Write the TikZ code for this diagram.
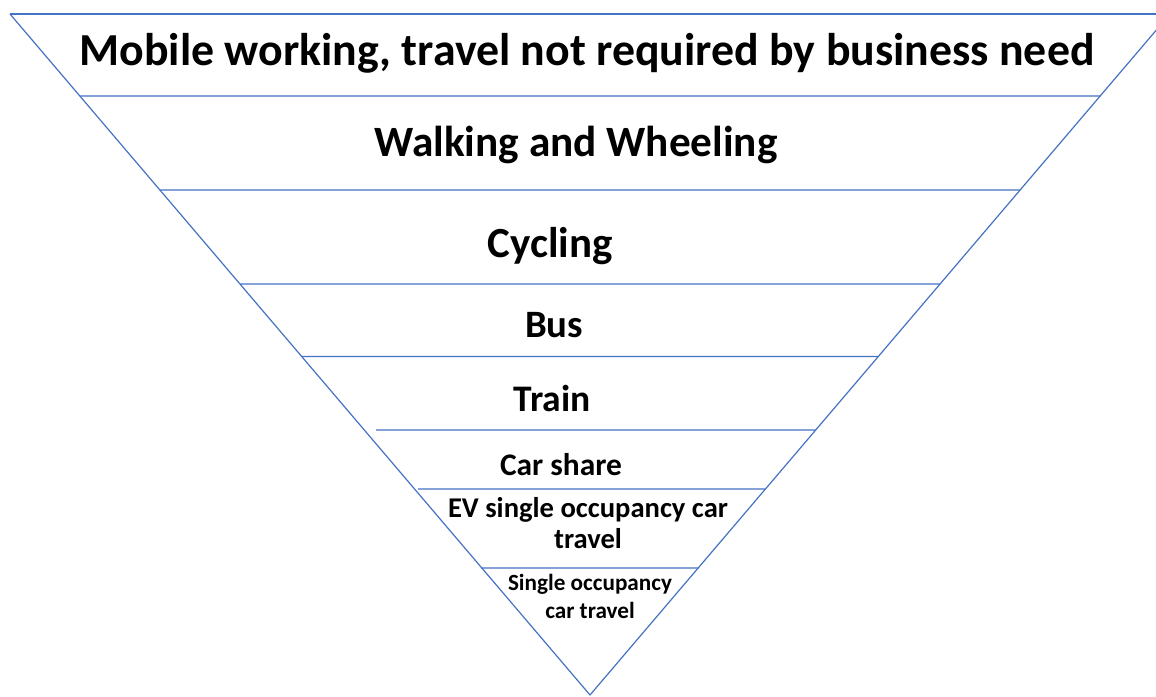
\documentclass[tikz,border=0pt]{standalone}
\usepackage{fontspec}
\setmainfont{Carlito}
\usetikzlibrary{calc}
\definecolor{lineblue}{HTML}{4472C4}
\newlength\fitlen
\newcommand\fitfont[3]{%
  \settowidth\fitlen{\fontsize{10}{12}\selectfont #3}%
  \pgfmathsetmacro\fitsize{10*#1/\fitlen}%
  \fontsize{\fitsize}{#2}\selectfont}
\begin{document}
\begin{tikzpicture}[x=1pt,y=-1pt,
  edge/.style={draw=lineblue,line width=1.2pt},
  lbl/.style={anchor=base,inner sep=0pt,text=black,align=center}]
\useasboundingbox (0,0) rectangle (1156,696);
\clip (0,0) rectangle (1156,696);
\coordinate (TL) at (10,14);
\coordinate (TR) at (1170,14);
\coordinate (AP) at (590,695);
% outline
\draw[edge] (TL) -- (TR);
\draw[edge,line join=round] (TL) -- (AP) -- (TR);
% dividers
\coordinate (L1) at (80,96);    \coordinate (R1) at ($(TR)!0.1204!(AP)$);
\coordinate (L2) at (160,190);  \coordinate (R2) at ($(TR)!0.2584!(AP)$);
\coordinate (L3) at (240,284);  \coordinate (R3) at ($(TR)!0.3965!(AP)$);
\coordinate (L4) at (301,356.5);\coordinate (R4) at ($(TR)!0.5029!(AP)$);
\coordinate (L5) at (376,430);  \coordinate (R5) at ($(TR)!0.6109!(AP)$);
\coordinate (L6) at (418,489);  \coordinate (R6) at ($(TR)!0.6975!(AP)$);
\coordinate (L7) at (481,568);  \coordinate (R7) at ($(TR)!0.8135!(AP)$);
\foreach \i in {1,...,7} \draw[edge] (L\i) -- (R\i);
% labels
\node[lbl,font={\bfseries\fitfont{1015}{54}{Mobile working, travel not required by business need}}] (t1) at (587,65) {Mobile working, travel not required by business need};
\node[lbl,font={\bfseries\fitfont{403}{50}{Walking and Wheeling}}] (t2) at (576,156) {Walking and Wheeling};
\node[lbl,font={\bfseries\fitfont{125}{50}{Cycling}}] (t3) at (550,257) {Cycling};
\node[lbl,font={\bfseries\fitfont{58}{44}{Bus}}] (t4) at (554,337) {Bus};
\node[lbl,font={\bfseries\fitfont{77}{44}{Train}}] (t5) at (552,411) {Train};
\node[lbl,font={\bfseries\fitfont{122}{36}{Car share}}] (t6) at (561,475) {Car share};
\node[lbl,font={\bfseries\fitfont{280}{31}{EV single occupancy car}}] (t7) at (588,548) {EV single occupancy car\\travel};
\node[lbl,font={\bfseries\fitfont{164}{28}{Single occupancy}}] (t8) at (590,618) {Single occupancy\\car travel};
\end{tikzpicture}
\end{document}
